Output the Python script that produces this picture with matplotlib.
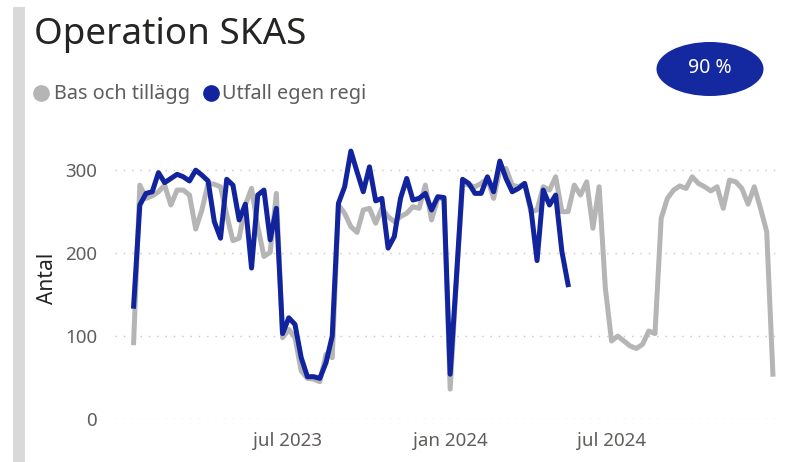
import datetime as dt
import matplotlib.pyplot as plt
from matplotlib.patches import Ellipse, Rectangle
from matplotlib.lines import Line2D

plt.rcParams['font.family'] = ['Noto Sans', 'DejaVu Sans']

# weekly data, first week starts 2023-01-09
first_week = dt.date(2023, 1, 9)

bas_och_tillagg = [
    92, 282, 266, 269, 274, 282, 258, 276, 276, 270,
    229, 252, 284, 283, 280, 246, 215, 218, 258, 278,
    232, 196, 201, 272, 98, 108, 98, 58, 49, 48,
    45, 78, 74, 258, 248, 232, 225, 252, 254, 236,
    254, 244, 238, 244, 248, 256, 254, 282, 240, 266,
    266, 36, 165, 284, 282, 280, 284, 290, 266, 300,
    302, 282, 280, 284, 250, 252, 280, 276, 292, 250,
    250, 282, 270, 286, 230, 280, 158, 94, 100, 94,
    88, 85, 90, 106, 103, 242, 266, 276, 281, 278,
    292, 284, 280, 275, 280, 254, 288, 286, 278, 259,
    280, 254, 226, 54,
]

utfall_egen_regi = [
    136, 258, 272, 274, 297, 285, 290, 295, 292, 287,
    300, 294, 287, 238, 218, 289, 282, 240, 259, 182,
    270, 276, 216, 254, 103, 122, 114, 74, 51, 51,
    49, 68, 100, 260, 280, 323, 298, 274, 304, 263,
    266, 206, 220, 266, 290, 264, 266, 272, 252, 268,
    267, 54, 170, 289, 284, 272, 272, 292, 274, 311,
    290, 274, 278, 284, 254, 191, 276, 258, 270, 202,
    162,
]

y_ticks = [0, 100, 200, 300]
x_ticks = [dt.date(2023, 7, 1), dt.date(2024, 1, 1), dt.date(2024, 7, 1)]
x_labels = ["jul 2023", "jan 2024", "jul 2024"]
badge_text = "90 %"

weeks = [first_week + dt.timedelta(weeks=i) for i in range(len(bas_och_tillagg))]

gray = "#b5b5b5"
blue = "#12239e"
text_dark = "#252423"
text_gray = "#605e5c"

fig = plt.figure(figsize=(7.86, 4.62), dpi=100)
ax = fig.add_axes([115 / 786, 43 / 462, 665 / 786, 282 / 462])

ax.plot(weeks, bas_och_tillagg, color=gray, lw=3.6, solid_joinstyle="round", zorder=2)
ax.plot(weeks[:len(utfall_egen_regi)], utfall_egen_regi, color=blue, lw=3.6,
        solid_joinstyle="round", zorder=3)

ax.set_ylim(0, 340)
ax.set_xlim(first_week - dt.timedelta(days=21), weeks[-1] + dt.timedelta(days=8))
ax.set_yticks(y_ticks)
ax.set_xticks(x_ticks)
ax.set_xticklabels(x_labels)
ax.tick_params(length=0, labelsize=13.5, colors=text_gray)
ax.tick_params(axis="y", pad=13)
ax.tick_params(axis="x", pad=9)
for v in y_ticks:
    ax.axhline(v, color="#c8c6c4", lw=1, ls=(0, (1, 5)), zorder=1)
for s in ax.spines.values():
    s.set_visible(False)
ax.set_ylabel("Antal", fontsize=15, color=text_dark, labelpad=5)

# left accent bar
fig.add_artist(Rectangle((13 / 786, 0), 12 / 786, 455 / 462, transform=fig.transFigure,
                         color="#d9d9d9", lw=0))

fig.text(34 / 786, 1 - 35 / 462, "Operation SKAS", fontsize=26.5, color=text_dark,
         va="center", ha="left")

# legend
fig.add_artist(Line2D([41 / 786], [1 - 93 / 462], marker="o", ms=11, color=gray,
                      transform=fig.transFigure))
fig.text(54 / 786, 1 - 94 / 462, "Bas och tillägg", fontsize=14.3, color=text_gray,
         va="center", ha="left")
fig.add_artist(Line2D([211 / 786], [1 - 93 / 462], marker="o", ms=11, color=blue,
                      transform=fig.transFigure))
fig.text(222 / 786, 1 - 94 / 462, "Utfall egen regi", fontsize=14.3, color=text_gray,
         va="center", ha="left")

# badge
fig.add_artist(Ellipse((710 / 786, 1 - 69 / 462), 107 / 786, 54 / 462,
                       transform=fig.transFigure, color="#1428a0", lw=0))
fig.text(710 / 786, 1 - 68 / 462, badge_text, fontsize=14, color="white",
         ha="center", va="center", fontweight="medium")

fig.savefig("out.png", dpi=100)
